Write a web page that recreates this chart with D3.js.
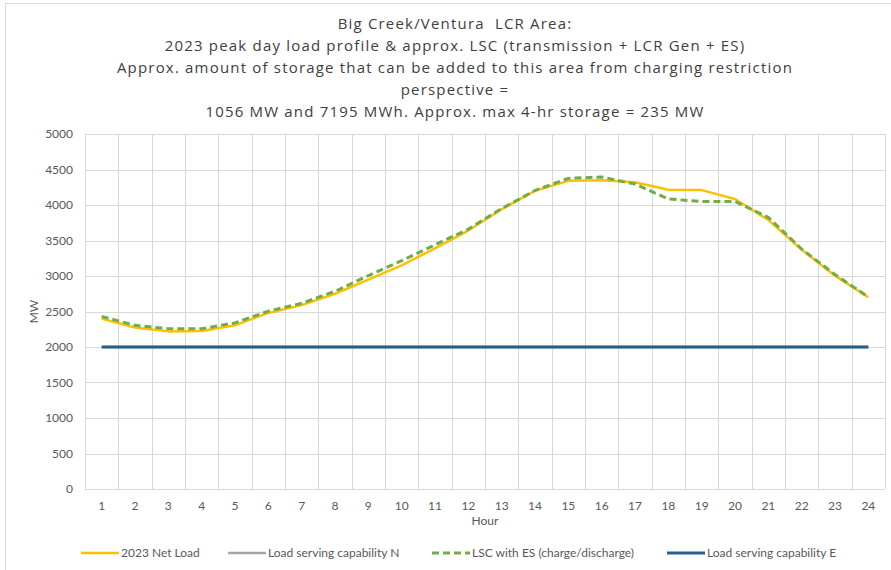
<!DOCTYPE html>
<html lang="en">
<head>
  <meta charset="UTF-8">
  <title>Big Creek/Ventura LCR Area</title>
  <script src="https://d3js.org/d3.v7.min.js"></script>
  <style>
    body { margin: 0; background: #fff; }
    svg { display: block; font-family: Lato, "Open Sans", sans-serif; }
  </style>
</head>
<body>
  <svg id="chart" width="891" height="570"></svg>
  <script>
    // data
    const hours = d3.range(1, 25);
    const netLoad = [2400, 2275, 2220, 2225, 2305, 2480, 2590, 2750, 2950, 3150, 3390, 3640,
                     3940, 4200, 4340, 4350, 4320, 4215, 4210, 4085, 3790, 3370, 3005, 2700];
    const lscES = [2430, 2305, 2258, 2258, 2340, 2505, 2615, 2785, 3005, 3215, 3440, 3660,
                   3950, 4205, 4375, 4395, 4295, 4085, 4050, 4050, 3825, 3380, 3020, 2705];
    const lscN = hours.map(() => 2000);
    const lscE = hours.map(() => 2000);
    const yTicks = [0, 500, 1000, 1500, 2000, 2500, 3000, 3500, 4000, 4500, 5000];
    const titleLines = [
      "Big Creek/Ventura  LCR Area:",
      "2023 peak day load profile & approx. LSC (transmission + LCR Gen + ES)",
      "Approx. amount of storage that can be added to this area from charging restriction",
      "perspective =",
      "1056 MW and 7195 MWh. Approx. max 4-hr storage = 235 MW"
    ];
    const series = [
      { name: "2023 Net Load", values: netLoad, color: "#FFC000", width: 2.5, dash: null },
      { name: "Load serving capability N", values: lscN, color: "#A5A5A5", width: 2.5, dash: null },
      { name: "LSC with ES (charge/discharge)", values: lscES, color: "#70AD47", width: 3, dash: "7,4" },
      { name: "Load serving capability E", values: lscE, color: "#255E91", width: 3, dash: null }
    ];

    const svg = d3.select("#chart");
    const margin = { left: 85, right: 885, top: 134, bottom: 489 };

    // outer chart border
    svg.append("rect")
      .attr("x", 5.5).attr("y", 3.5)
      .attr("width", 900).attr("height", 600)
      .attr("fill", "none").attr("stroke", "#d9d9d9");

    const x = d3.scaleBand().domain(hours).range([margin.left, margin.right]);
    const y = d3.scaleLinear().domain([0, 5000]).range([margin.bottom, margin.top]);

    // gridlines
    const grid = svg.append("g").attr("stroke", "#d9d9d9").attr("stroke-width", 1);
    grid.selectAll(".h").data(yTicks).enter().append("line")
      .attr("x1", margin.left).attr("x2", margin.right)
      .attr("y1", d => Math.round(y(d)) + 0.5).attr("y2", d => Math.round(y(d)) + 0.5);
    grid.selectAll(".v").data(hours.concat([25])).enter().append("line")
      .attr("x1", d => Math.round(d === 25 ? margin.right : x(d)) + 0.5)
      .attr("x2", d => Math.round(d === 25 ? margin.right : x(d)) + 0.5)
      .attr("y1", margin.top).attr("y2", margin.bottom);

    // axes
    const yAxis = svg.append("g")
      .attr("transform", `translate(${margin.left},0)`)
      .call(d3.axisLeft(y).tickValues(yTicks).tickFormat(d3.format("d")).tickSize(0).tickPadding(12));
    const xAxis = svg.append("g")
      .attr("transform", `translate(0,${margin.bottom})`)
      .call(d3.axisBottom(x).tickSize(0).tickPadding(12));
    [yAxis, xAxis].forEach(a => {
      a.select(".domain").remove();
      a.selectAll("text").attr("fill", "#595959").style("font-size", "12px")
        .style("font-family", "Lato, 'Open Sans', sans-serif");
    });

    svg.append("text")
      .attr("transform", `translate(38,${(margin.top + margin.bottom) / 2}) rotate(-90)`)
      .attr("text-anchor", "middle").attr("fill", "#595959").style("font-size", "12px")
      .text("MW");
    svg.append("text")
      .attr("x", (margin.left + margin.right) / 2).attr("y", 525)
      .attr("text-anchor", "middle").attr("fill", "#595959").style("font-size", "12px")
      .text("Hour");

    // lines
    const line = d3.line()
      .x((d, i) => x(hours[i]) + x.bandwidth() / 2)
      .y(d => y(d));
    svg.append("g").selectAll("path").data(series).enter().append("path")
      .attr("d", d => line(d.values))
      .attr("fill", "none")
      .attr("stroke", d => d.color)
      .attr("stroke-width", d => d.width)
      .attr("stroke-dasharray", d => d.dash)
      .attr("stroke-linejoin", "round");

    // title - the original font is set wide, so open up the letter spacing
    // until the longest line is about as wide as in the picture (~675px)
    const title = svg.append("g").selectAll("text").data(titleLines).enter().append("text")
      .attr("x", 455).attr("y", (d, i) => 29 + i * 22)
      .attr("text-anchor", "middle").attr("fill", "#404040")
      .style("font-family", "'Open Sans', Lato, sans-serif")
      .style("font-size", "15px").style("white-space", "pre")
      .text(d => d);
    const longest = title.filter((d, i) => i === 2).node();
    const w = longest.getComputedTextLength();
    const spacing = Math.max(0, (675 - w) / (titleLines[2].length - 1));
    title.style("letter-spacing", spacing + "px");

    // legend
    const legendX = [81, 228, 432, 667];
    const legend = svg.append("g").selectAll("g").data(series).enter().append("g")
      .attr("transform", (d, i) => `translate(${legendX[i]},553)`);
    legend.append("line")
      .attr("x1", 0).attr("x2", 38)
      .attr("stroke", d => d.color)
      .attr("stroke-width", d => d.width)
      .attr("stroke-dasharray", d => d.dash);
    legend.append("text")
      .attr("x", 40).attr("dy", "0.35em")
      .attr("fill", "#595959").style("font-size", "12px")
      .text(d => d.name);
  </script>
</body>
</html>
